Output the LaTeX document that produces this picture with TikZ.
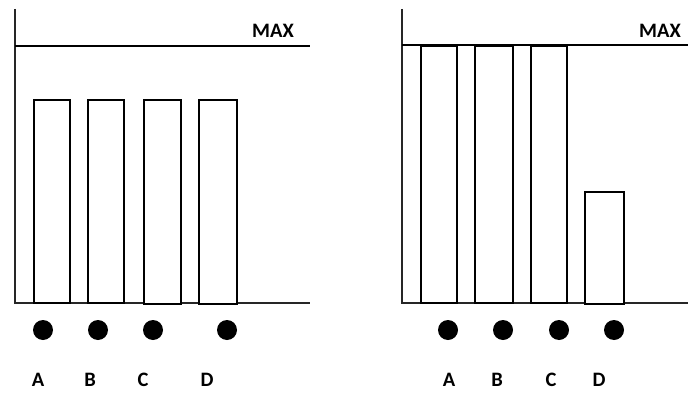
\documentclass[tikz,border=0pt]{standalone}
\usepackage{fontspec}
\setmainfont{Carlito}
\usetikzlibrary{positioning}

\tikzset{
  axisline/.style={line width=2.6pt, black!85},
  maxline/.style={line width=2.8pt, black},
  bar/.style={draw, line width=1.6pt, fill=white},
  dot/.style={circle, fill=black, inner sep=0pt, minimum size=20pt},
  tag/.style={font=\fontsize{20.5}{24}\selectfont\bfseries, inner sep=0pt}
}

\begin{document}
\begin{tikzpicture}[x=1pt, y=1pt]
  \useasboundingbox (0, 0) rectangle (688, 392);

  % Left chart: all four bars below the limit
  \draw[axisline] (15, 383) -- (15, 89) -- (310, 89);
  \draw[maxline] (15, 346) -- (310, 346);
  \node[tag, anchor=base] (maxL) at (273, 355) {MAX};

  \draw[bar] (34, 89) rectangle (70, 292);
  \draw[bar] (88, 89) rectangle (124, 292);
  \draw[bar] (144, 88) rectangle (181, 292);
  \draw[bar] (199, 88) rectangle (237, 292);

  \node[dot] (dotLA) at (43, 62) {};
  \node[dot] (dotLB) at (98, 62) {};
  \node[dot] (dotLC) at (153, 62) {};
  \node[dot] (dotLD) at (227, 62) {};

  \node[tag] (labLA) at (38, 12) {A};
  \node[tag] (labLB) at (90, 12) {B};
  \node[tag] (labLC) at (143, 12) {C};
  \node[tag] (labLD) at (207, 12) {D};

  % Right chart: A, B and C reach the limit, D stays low
  \draw[axisline] (402, 383) -- (402, 89) -- (688, 89);
  \draw[maxline] (402, 347) -- (688, 347);
  \node[tag, anchor=base] (maxR) at (660, 355) {MAX};

  \draw[bar] (421, 89) rectangle (457, 346);
  \draw[bar] (475, 89) rectangle (513, 346);
  \draw[bar] (531, 89) rectangle (567, 346);
  \draw[bar] (585, 88) rectangle (624, 200);

  \node[dot] (dotRA) at (448, 62) {};
  \node[dot] (dotRB) at (503, 62) {};
  \node[dot] (dotRC) at (559, 62) {};
  \node[dot] (dotRD) at (614, 62) {};

  \node[tag] (labRA) at (449, 12) {A};
  \node[tag] (labRB) at (497, 12) {B};
  \node[tag] (labRC) at (551, 12) {C};
  \node[tag] (labRD) at (599, 12) {D};
\end{tikzpicture}
\end{document}
